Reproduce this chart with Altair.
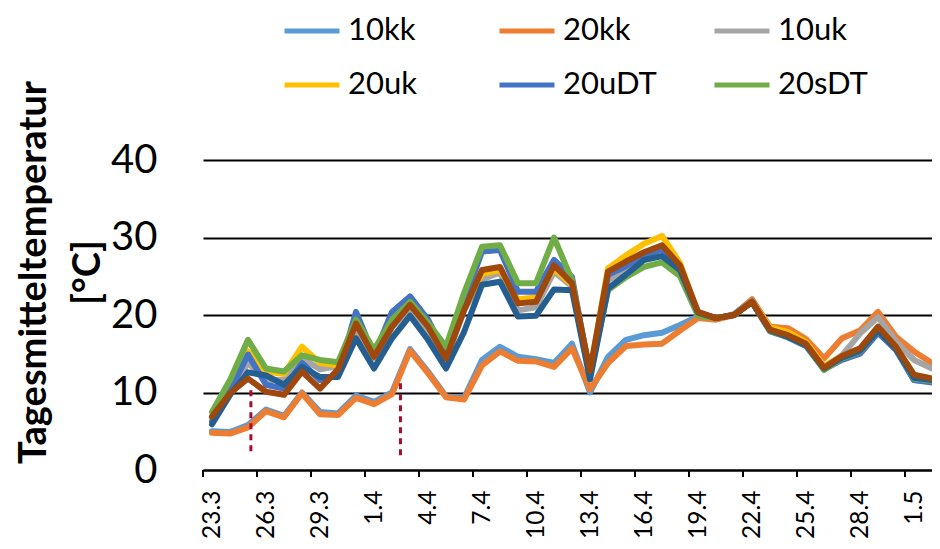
import json
import altair as alt
import pandas as pd

# ---------------- data ----------------
dates = ["23.3", "24.3", "25.3", "26.3", "27.3", "28.3", "29.3", "30.3", "31.3",
         "1.4", "2.4", "3.4", "4.4", "5.4", "6.4", "7.4", "8.4", "9.4", "10.4",
         "11.4", "12.4", "13.4", "14.4", "15.4", "16.4", "17.4", "18.4", "19.4",
         "20.4", "21.4", "22.4", "23.4", "24.4", "25.4", "26.4", "27.4", "28.4",
         "29.4", "30.4", "1.5", "2.5"]

s10kk = [5.0, 4.9, 5.8, 7.8, 7.0, 10.0, 7.5, 7.3, 9.6, 8.8, 10.0, 15.6, 12.7, 9.5, 9.3,
         14.2, 15.9, 14.6, 14.3, 13.8, 16.3, 10.0, 14.6, 16.8, 17.4, 17.7, 18.7, 19.8,
         19.5, 20.1, 22.0, 18.2, 17.3, 16.2, 13.4, 14.6, 15.1, 17.8, 15.6, 11.6, 11.4]
s20kk = [4.8, 4.7, 5.5, 7.6, 6.8, 9.9, 7.2, 7.1, 9.3, 8.5, 9.8, 15.4, 12.5, 9.4, 9.1,
         13.5, 15.3, 14.1, 14.0, 13.3, 15.7, 10.4, 13.8, 16.0, 16.2, 16.3, 18.0, 19.6,
         19.4, 20.0, 22.0, 18.5, 18.3, 16.9, 14.4, 17.0, 18.0, 20.4, 17.2, 15.3, 13.8]
s10uk = [6.8, 10.0, 13.8, 11.6, 11.6, 14.4, 13.0, 13.4, 18.1, 14.4, 18.4, 20.8, 18.0, 14.2,
         20.6, 24.6, 25.5, 20.6, 21.0, 25.6, 23.7, 12.5, 24.5, 25.8, 27.5, 28.4, 26.1, 20.3,
         19.6, 20.0, 21.7, 18.1, 17.4, 16.3, 13.3, 14.8, 17.6, 19.7, 16.6, 14.2, 13.1]
s20uk = [6.8, 10.0, 15.3, 12.7, 12.4, 15.9, 13.8, 13.5, 19.1, 14.6, 19.6, 21.6, 18.6, 14.6,
         21.0, 25.3, 25.8, 22.0, 22.3, 26.0, 23.9, 12.6, 26.0, 27.7, 29.2, 30.2, 26.7, 20.2,
         19.6, 20.0, 21.7, 18.4, 17.8, 16.5, 13.4, 14.7, 15.5, 18.4, 15.9, 12.2, 11.8]
s20uDT = [6.3, 10.2, 14.9, 11.0, 10.5, 13.8, 11.6, 12.3, 20.4, 14.8, 20.4, 22.4, 19.4, 14.8,
          21.7, 28.2, 28.4, 23.0, 23.0, 27.1, 24.9, 12.3, 25.2, 26.3, 27.6, 28.5, 26.0, 20.3,
          19.6, 20.0, 21.7, 17.9, 17.1, 16.0, 13.0, 14.2, 15.0, 17.7, 15.5, 11.6, 11.3]
s20sDT = [7.5, 11.6, 16.8, 13.1, 12.7, 14.8, 14.2, 13.9, 19.4, 15.5, 19.4, 21.7, 19.0, 15.9,
          22.8, 28.8, 29.0, 24.1, 24.1, 30.0, 24.5, 12.3, 23.2, 24.9, 26.2, 26.8, 25.0, 19.9,
          19.6, 20.0, 21.7, 17.9, 17.2, 16.1, 12.9, 14.4, 15.3, 18.0, 15.6, 11.8, 11.5]
# two further series drawn in the plot but not listed in the legend
sExtraA = [5.9, 9.7, 12.6, 12.2, 11.0, 13.3, 12.0, 12.0, 17.0, 13.1, 17.0, 19.9, 16.8, 13.1,
           17.8, 23.9, 24.3, 19.8, 19.9, 23.3, 23.2, 11.7, 23.4, 25.2, 27.1, 27.6, 25.8, 20.3,
           19.6, 20.0, 21.7, 18.0, 17.2, 16.1, 13.1, 14.5, 15.4, 18.0, 15.6, 11.9, 11.6]
sExtraB = [6.9, 9.9, 11.8, 10.1, 9.7, 12.7, 10.5, 13.0, 18.9, 14.6, 18.5, 21.3, 18.5, 14.4,
           20.6, 25.8, 26.2, 21.5, 21.7, 26.4, 24.1, 12.8, 25.6, 26.9, 28.1, 29.0, 26.4, 20.4,
           19.6, 20.0, 21.7, 18.1, 17.4, 16.3, 13.2, 14.7, 15.7, 18.5, 15.9, 12.3, 11.8]

names = ["10kk", "20kk", "10uk", "20uk", "20uDT", "20sDT"]
colors = ["#5B9BD5", "#ED7D31", "#A5A5A5", "#FFC000", "#4472C4", "#70AD47"]
extra_names = ["A", "B"]
extra_colors = ["#255E91", "#9E480E"]

# annotation dashed lines (position in category units, top and bottom in °C)
marker_pos = [2.16, 10.47]
marker_top = [10.3, 11.2]
marker_bottom = [2.2, 1.3]

y_ticks = [0, 10, 20, 30, 40]

# ---------------- tables ----------------
def long_table(series_names, series_values):
    rows = []
    for nm, vals in zip(series_names, series_values):
        for i, v in enumerate(vals):
            rows.append({"series": nm, "idx": i, "date": dates[i], "value": v})
    return pd.DataFrame(rows)

main_df = long_table(names, [s10kk, s20kk, s10uk, s20uk, s20uDT, s20sDT])
extra_df = long_table(extra_names, [sExtraA, sExtraB])
tick_df = pd.DataFrame({"b": [k - 0.5 for k in range(0, len(dates), 3)]})
marker_df = pd.DataFrame({"x": marker_pos, "top": marker_top, "bottom": marker_bottom})

W, H = 729, 310
FONT = "Lato"
xscale = alt.Scale(domain=[-0.5, len(dates) - 1], nice=False, zero=False)
yscale = alt.Scale(domain=[0, 40], nice=False)

label_expr = json.dumps(dates) + "[datum.value]"

x_axis = alt.Axis(values=list(range(0, len(dates), 3)), labelExpr=label_expr,
                  labelAngle=270, labelAlign="right", labelBaseline="middle",
                  labelPadding=20, ticks=False, grid=False, domainColor="black",
                  domainWidth=2, labelFont=FONT, labelFontSize=24.5, labelColor="black",
                  labelFlush=False, labelOverlap=False, title=None)
y_axis = alt.Axis(values=y_ticks, domain=False, ticks=False, grid=True, gridColor="black",
                  gridWidth=2, labelFont=FONT, labelFontSize=40, labelColor="black",
                  labelPadding=46, labelFlush=False,
                  title=["Tagesmitteltemperatur", "[°C]"], titleFont=FONT,
                  titleFontSize=38, titleFontWeight="bold", titleColor="black",
                  titleAngle=270, titleX=-158, titleY=112, titleAlign="center",
                  titleBaseline="alphabetic", titleLineHeight=54)

legend = alt.Legend(orient="none", legendX=79, legendY=-159, columns=3,
                    direction="horizontal",
                    symbolType="stroke", symbolStrokeWidth=5, symbolSize=3025,
                    labelFont=FONT, labelFontSize=31, labelColor="black", labelOffset=6,
                    columnPadding=47, rowPadding=9, gridAlign="all", title=None,
                    padding=0)

line_style = dict(strokeWidth=6, strokeCap="round", strokeJoin="round")

main = alt.Chart(main_df).mark_line(**line_style).encode(
    x=alt.X("idx:Q", scale=xscale, axis=x_axis),
    y=alt.Y("value:Q", scale=yscale, axis=y_axis),
    color=alt.Color("series:N", scale=alt.Scale(domain=names, range=colors), legend=legend),
    detail="series:N",
)

extra = alt.Chart(extra_df).mark_line(**line_style).encode(
    x=alt.X("idx:Q", scale=xscale),
    y=alt.Y("value:Q", scale=yscale),
    color=alt.Color("series:N", scale=alt.Scale(domain=extra_names, range=extra_colors),
                    legend=None),
)

ticks = alt.Chart(tick_df).mark_rule(color="black", strokeWidth=2).encode(
    x=alt.X("b:Q", scale=xscale),
    y=alt.value(H),
    y2=alt.value(H + 7),
)

markers = alt.Chart(marker_df).mark_rule(color="#A50F2D", strokeWidth=3,
                                         strokeDash=[6, 5]).encode(
    x=alt.X("x:Q", scale=xscale),
    y=alt.Y("top:Q", scale=yscale),
    y2="bottom:Q",
)

chart = alt.layer(main, extra, ticks, markers).resolve_scale(color="independent").properties(
    width=W, height=H,
    padding={"left": 195, "top": 152, "right": 0, "bottom": 71},
    autosize=alt.AutoSizeParams(type="none"),
).configure_view(stroke=None)

chart.save("out.html", embed_options={"renderer": "svg", "actions": False})
